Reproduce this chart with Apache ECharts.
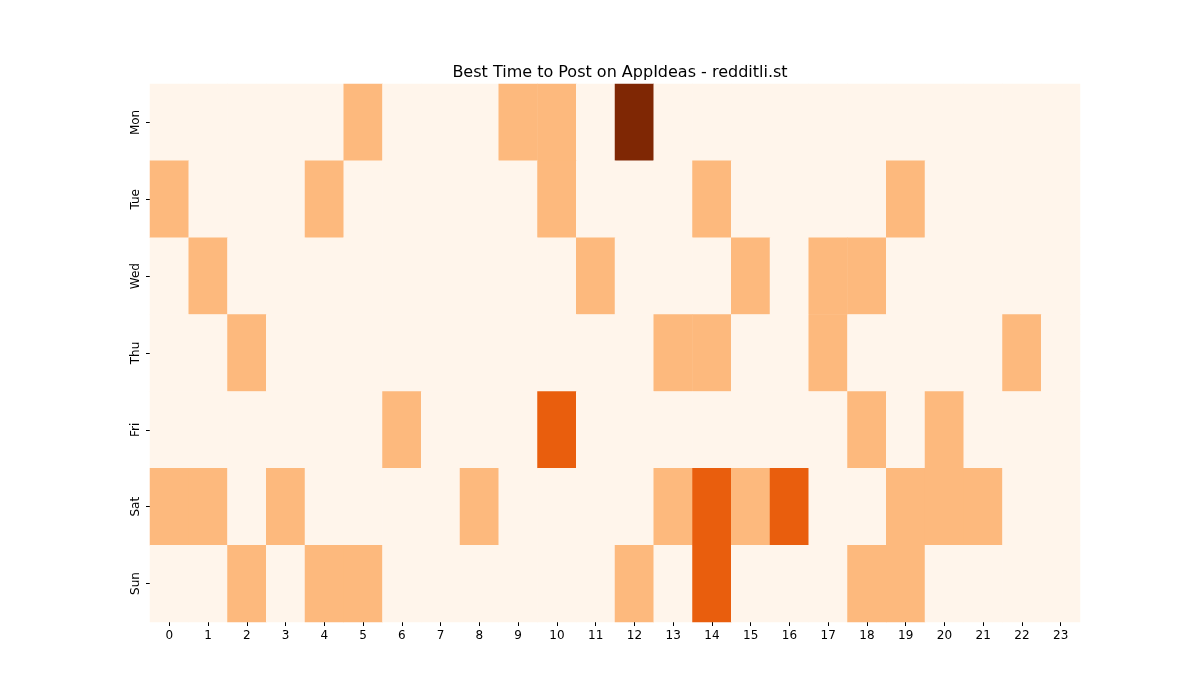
<!DOCTYPE html>
<html><head><meta charset="utf-8">
<script src="https://cdn.jsdelivr.net/npm/echarts@6/dist/echarts.min.js"></script>
<style>body{margin:0}#c{width:1200px;height:700px}</style></head>
<body><div id="c"></div>
<script>
const hours = Array.from({length:24},(_,i)=>String(i));
const days = ['Mon','Tue','Wed','Thu','Fri','Sat','Sun'];
const mon = [0,0,0,0,0,1,0,0,0,1,1,0,3,0,0,0,0,0,0,0,0,0,0,0];
const tue = [1,0,0,0,1,0,0,0,0,0,1,0,0,0,1,0,0,0,0,1,0,0,0,0];
const wed = [0,1,0,0,0,0,0,0,0,0,0,1,0,0,0,1,0,1,1,0,0,0,0,0];
const thu = [0,0,1,0,0,0,0,0,0,0,0,0,0,1,1,0,0,1,0,0,0,0,1,0];
const fri = [0,0,0,0,0,0,1,0,0,0,2,0,0,0,0,0,0,0,1,0,1,0,0,0];
const sat = [1,1,0,1,0,0,0,0,1,0,0,0,0,1,2,1,2,0,0,1,1,1,0,0];
const sun = [0,0,1,0,1,1,0,0,0,0,0,0,1,0,2,0,0,0,1,1,0,0,0,0];
const rows = [mon,tue,wed,thu,fri,sat,sun];
const data = [];
rows.forEach((r,y)=>r.forEach((v,x)=>data.push([x,y,v])));
const chart = echarts.init(document.getElementById('c'));
const font = 'DejaVu Sans';
chart.setOption({
  animation:false,
  backgroundColor:'#fff',
  title:{text:'Best Time to Post on AppIdeas - redditli.st',left:615,top:60,textAlign:'center',
    textStyle:{fontFamily:font,fontSize:16,fontWeight:'normal',color:'#000'}},
  grid:{left:150,right:120,top:84,bottom:78},
  xAxis:{type:'category',data:hours,axisLine:{show:false},
    axisTick:{show:true,alignWithLabel:true,length:4,lineStyle:{color:'#000'}},
    axisLabel:{fontFamily:font,fontSize:12,color:'#000',margin:8},splitLine:{show:false}},
  yAxis:{type:'category',data:days,inverse:true,axisLine:{show:false},
    axisTick:{show:true,alignWithLabel:true,length:4,lineStyle:{color:'#000'}},
    axisLabel:{fontFamily:font,fontSize:12,color:'#000',rotate:90,margin:8},splitLine:{show:false}},
  visualMap:{show:false,type:'piecewise',dimension:2,pieces:[
    {value:0,color:'#fff5eb'},{value:1,color:'#fdb97d'},{value:2,color:'#e95e0d'},{value:3,color:'#7f2704'}]},
  graphic:[{type:'text',left:'center',top:337,x:0,style:{text:'redditli.st',fontFamily:font,fontSize:26,fill:'rgba(150,150,150,0.5)'},
    position:[0,0]}],
  series:[{type:'heatmap',data:data,itemStyle:{borderWidth:0}}]
});
</script></body></html>
